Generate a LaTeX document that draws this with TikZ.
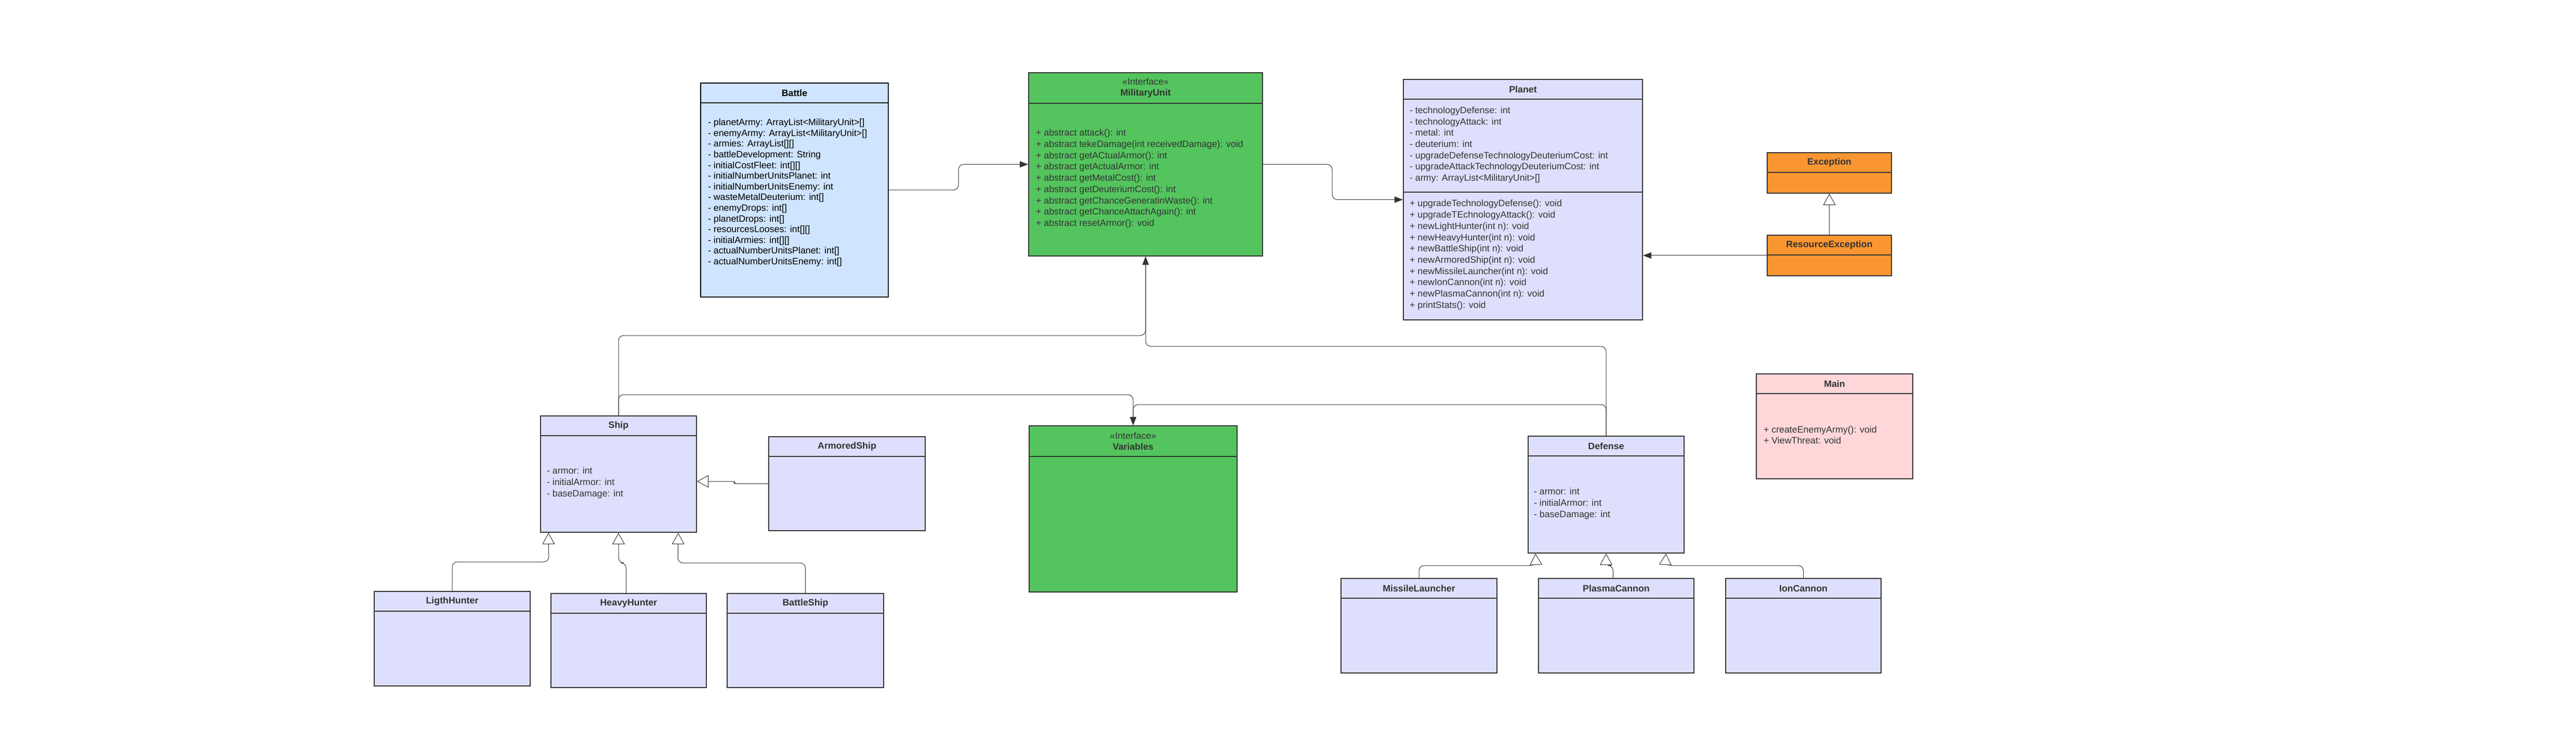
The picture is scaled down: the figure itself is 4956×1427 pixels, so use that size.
\documentclass[tikz,border=0pt]{standalone}
\usepackage{fontspec}
\setmainfont{Liberation Sans}
\usetikzlibrary{arrows.meta}

\definecolor{battleblue}{HTML}{CFE4FF}
\definecolor{unitgreen}{HTML}{54C45E}
\definecolor{classlilac}{HTML}{DEDFFC}
\definecolor{excorange}{HTML}{FA9632}
\definecolor{mainpink}{HTML}{FFD7D9}
\definecolor{umlgray}{HTML}{333333}

\begin{document}
\begin{tikzpicture}[
                x=0.5pt,y=-0.5pt,
                line width=1pt,
                classbox/.style={draw=umlgray,inner sep=0pt},
                classhead/.style={draw=umlgray,inner sep=0pt,anchor=north,minimum height=19pt,align=center,text=umlgray,font=\fontsize{8.9pt}{10.85pt}\selectfont\bfseries},
                classtext/.style={anchor=west,inner sep=0pt,align=left,text=umlgray,font=\fontsize{8.9pt}{10.85pt}\selectfont},
                assoc/.style={draw=umlgray,line width=0.5pt,rounded corners=5pt,-{Triangle[length=8pt,width=6pt]}},
                inherit/.style={draw=umlgray,line width=0.5pt,rounded corners=5pt,-{Triangle[open,length=11pt,width=12pt,fill=white]}}] %

                    \fill[white] (0,0) rectangle (4956,1427);
                    \useasboundingbox (0,0) rectangle (4956,1427);

                    % top row
                    \node[classbox,draw=black,fill=battleblue,minimum width=180.5pt,minimum height=206pt] (ClassBattle) at (1528.5,366) {}; % 1
                    \node[classhead,draw=black,fill=battleblue,minimum width=180.5pt,text=black] (HeadBattle) at (ClassBattle.north) {Battle};
                    \node[classtext,text=black,font=\fontsize{8.9pt}{10.3pt}\selectfont] (TextBattle) at (1361,371) {- planetArmy: ArrayList<MilitaryUnit>[]\\
                    - enemyArmy: ArrayList<MilitaryUnit>[]\\
                    - armies: ArrayList[][]\\
                    - battleDevelopment: String\\
                    - initialCostFleet: int[][]\\
                    - initialNumberUnitsPlanet: int\\
                    - initialNumberUnitsEnemy: int\\
                    - wasteMetalDeuterium: int[]\\
                    - enemyDrops: int[]\\
                    - planetDrops: int[]\\
                    - resourcesLooses: int[][]\\
                    - initialArmies: int[][]\\
                    - actualNumberUnitsPlanet: int[]\\
                    - actualNumberUnitsEnemy: int[]};

                    \node[classbox,fill=unitgreen,minimum width=225pt,minimum height=176.5pt] (ClassMilitaryUnit) at (2204,316.5) {}; % 2
                    \node[classhead,fill=unitgreen,minimum width=225pt,minimum height=29.5pt] (HeadMilitaryUnit) at (ClassMilitaryUnit.north) {{\mdseries «Interface»}\\MilitaryUnit};
                    \node[classtext] (TextMilitaryUnit) at (1992,344) {+ abstract attack(): int\\
                    + abstract tekeDamage(int receivedDamage): void\\
                    + abstract getACtualArmor(): int\\
                    + abstract getActualArmor: int\\
                    + abstract getMetalCost(): int\\
                    + abstract getDeuteriumCost(): int\\
                    + abstract getChanceGeneratinWaste(): int\\
                    + abstract getChanceAttachAgain(): int\\
                    + abstract resetArmor(): void};

                    \node[classbox,fill=classlilac,minimum width=230pt,minimum height=231.5pt] (ClassPlanet) at (2930,384.5) {}; % 3
                    \node[classhead,fill=classlilac,minimum width=230pt] (HeadPlanet) at (ClassPlanet.north) {Planet};
                    \draw[umlgray] ([yshift=-109pt]ClassPlanet.north west) -- ([yshift=-109pt]ClassPlanet.north east);
                    \node[classtext] (AttrPlanet) at (2711,279) {- technologyDefense: int\\
                    - technologyAttack: int\\
                    - metal: int\\
                    - deuterium: int\\
                    - upgradeDefenseTechnologyDeuteriumCost: int\\
                    - upgradeAttackTechnologyDeuteriumCost: int\\
                    - army: ArrayList<MilitaryUnit>[]};
                    \node[classtext] (TextPlanet) at (2711,491) {+ upgradeTechnologyDefense(): void\\
                    + upgradeTEchnologyAttack(): void\\
                    + newLightHunter(int n): void\\
                    + newHeavyHunter(int n): void\\
                    + newBattleShip(int n): void\\
                    + newArmoredShip(int n): void\\
                    + newMissileLauncher(int n): void\\
                    + newIonCannon(int n): void\\
                    + newPlasmaCannon(int n): void\\
                    + printStats(): void};

                    \node[classbox,fill=excorange,minimum width=119.5pt,minimum height=39pt] (ClassException) at (3519.5,333) {}; % 4
                    \node[classhead,fill=excorange,minimum width=119.5pt] (HeadException) at (ClassException.north) {Exception};
                    \node[classbox,fill=excorange,minimum width=119.5pt,minimum height=39pt] (ClassResourceException) at (3519.5,492) {}; % 5
                    \node[classhead,fill=excorange,minimum width=119.5pt] (HeadResourceException) at (ClassResourceException.north) {ResourceException};

                    \node[classbox,fill=mainpink,minimum width=150.5pt,minimum height=101pt] (ClassMain) at (3529.5,821) {}; % 6
                    \node[classhead,fill=mainpink,minimum width=150.5pt] (HeadMain) at (ClassMain.north) {Main};
                    \node[classtext] (TextMain) at (3392,837.5) {+ createEnemyArmy(): void\\
                    + ViewThreat: void};


                    % middle row
                    \node[classbox,fill=classlilac,minimum width=150pt,minimum height=112pt] (ClassShip) at (1190,913) {}; % 7
                    \node[classhead,fill=classlilac,minimum width=150pt] (HeadShip) at (ClassShip.north) {Ship};
                    \node[classtext] (TextShip) at (1051,930) {- armor: int\\
                    - initialArmor: int\\
                    - baseDamage: int};

                    \node[classbox,fill=classlilac,minimum width=150.5pt,minimum height=90.5pt] (ClassArmoredShip) at (1629.5,931.5) {}; % 8
                    \node[classhead,fill=classlilac,minimum width=150.5pt] (HeadArmoredShip) at (ClassArmoredShip.north) {ArmoredShip};

                    \node[classbox,fill=unitgreen,minimum width=200pt,minimum height=160pt] (ClassVariables) at (2180,980) {}; % 9
                    \node[classhead,fill=unitgreen,minimum width=200pt,minimum height=29.5pt] (HeadVariables) at (ClassVariables.north) {{\mdseries «Interface»}\\Variables};

                    \node[classbox,fill=classlilac,minimum width=150pt,minimum height=112.5pt] (ClassDefense) at (3090,952.5) {}; % 10
                    \node[classhead,fill=classlilac,minimum width=150pt] (HeadDefense) at (ClassDefense.north) {Defense};
                    \node[classtext] (TextDefense) at (2950,970) {- armor: int\\
                    - initialArmor: int\\
                    - baseDamage: int};


                    % bottom row
                    \node[classbox,fill=classlilac,minimum width=150pt,minimum height=91pt] (ClassLigthHunter) at (870,1230) {}; % 11
                    \node[classhead,fill=classlilac,minimum width=150pt] (HeadLigthHunter) at (ClassLigthHunter.north) {LigthHunter};
                    \node[classbox,fill=classlilac,minimum width=149.5pt,minimum height=90.5pt] (ClassHeavyHunter) at (1209.5,1233.5) {}; % 12
                    \node[classhead,fill=classlilac,minimum width=149.5pt] (HeadHeavyHunter) at (ClassHeavyHunter.north) {HeavyHunter};
                    \node[classbox,fill=classlilac,minimum width=150.5pt,minimum height=90.5pt] (ClassBattleShip) at (1549.5,1233.5) {}; % 13
                    \node[classhead,fill=classlilac,minimum width=150.5pt] (HeadBattleShip) at (ClassBattleShip.north) {BattleShip};

                    \node[classbox,fill=classlilac,minimum width=150pt,minimum height=91pt] (ClassMissileLauncher) at (2730,1205) {}; % 14
                    \node[classhead,fill=classlilac,minimum width=150pt] (HeadMissileLauncher) at (ClassMissileLauncher.north) {MissileLauncher};
                    \node[classbox,fill=classlilac,minimum width=149.5pt,minimum height=91pt] (ClassPlasmaCannon) at (3109.5,1205) {}; % 15
                    \node[classhead,fill=classlilac,minimum width=149.5pt] (HeadPlasmaCannon) at (ClassPlasmaCannon.north) {PlasmaCannon};
                    \node[classbox,fill=classlilac,minimum width=149.5pt,minimum height=91pt] (ClassIonCannon) at (3469.5,1205) {}; % 16
                    \node[classhead,fill=classlilac,minimum width=149.5pt] (HeadIonCannon) at (ClassIonCannon.north) {IonCannon};


                    % associations
                    \draw[assoc] (ClassBattle.east) -| (1844,316.5) -- (ClassMilitaryUnit.west);
                    \draw[assoc] (ClassMilitaryUnit.east) -| (2563,384.5) -- (ClassPlanet.west);
                    \draw[assoc] (ClassResourceException.west) -- (ClassResourceException.west -| ClassPlanet.east);

                    \draw[assoc] (ClassShip.north) |- (2204,646) -- (ClassMilitaryUnit.south);
                    \draw[assoc] (ClassDefense.north) |- (2204,667) -- (ClassMilitaryUnit.south);
                    \draw[assoc] (ClassShip.north) |- (2180,760) -- (ClassVariables.north);
                    \draw[assoc] (ClassDefense.north) |- (2180,779) -- (ClassVariables.north);


                    % inheritance
                    \draw[inherit] (ClassResourceException.north) -- (ClassException.south);
                    \draw[inherit,rounded corners=2pt] (ClassArmoredShip.west) -| (1413,927) -- ([yshift=-7pt]ClassShip.east);

                    \draw[inherit] (ClassLigthHunter.north) |- (1056,1082) -- ([xshift=8pt]ClassShip.south west);
                    \draw[inherit] ([xshift=-2.5pt]ClassHeavyHunter.north) |- (1190,1084) -- (ClassShip.south);
                    \draw[inherit] (ClassBattleShip.north) |- (1304,1084) -- ([xshift=-18pt]ClassShip.south east);

                    \draw[inherit] (ClassMissileLauncher.north) |- (2955,1089) -- ([xshift=7.5pt]ClassDefense.south west);
                    \draw[inherit] ([xshift=-3pt]ClassPlasmaCannon.north) |- (3090,1089) -- (ClassDefense.south);
                    \draw[inherit] (ClassIonCannon.north) |- (3204,1089) -- ([xshift=-18pt]ClassDefense.south east);

                    \end{tikzpicture}
\end{document}
